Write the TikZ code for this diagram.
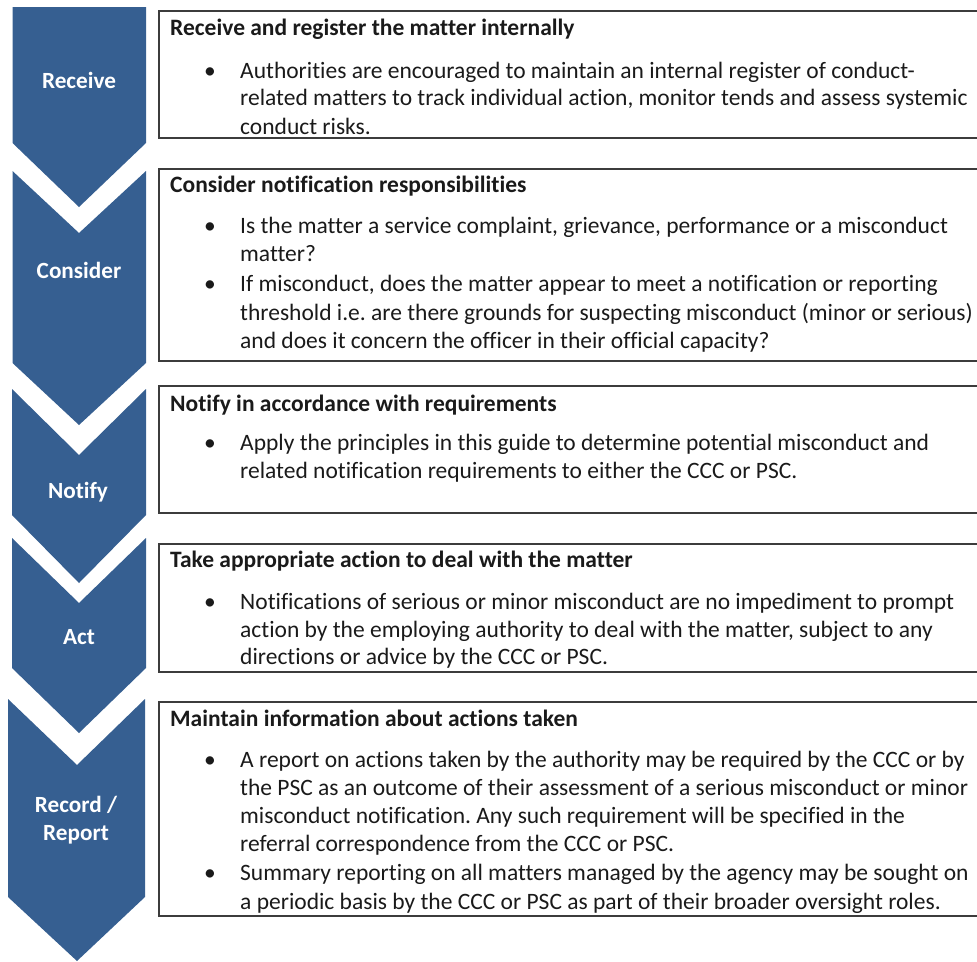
\documentclass[tikz,border=0pt]{standalone}
\usepackage{fontspec}
\setmainfont{Carlito}[Ligatures=NoCommon]
\frenchspacing
\definecolor{stepblue}{HTML}{365F91}
\definecolor{ink}{HTML}{1A1A1A}
\begin{document}
\begin{tikzpicture}[x=1pt,y=-1pt,
  chev/.style={fill=stepblue},
  chevlabel/.style={text=white,font=\fontsize{23.2}{28}\selectfont\bfseries,anchor=base,inner sep=0},
  infobox/.style={draw=ink!85,line width=1.4pt},
  boxtitle/.style={text=ink,font=\fontsize{23.5}{28}\selectfont\bfseries,anchor=base west,inner sep=0},
  bodyline/.style={text=ink,font=\fontsize{23.5}{28}\selectfont,anchor=base west,inner sep=0},
  dot/.style={text=ink,font=\fontsize{23.5}{28}\selectfont,anchor=base,inner sep=0}]
\useasboundingbox (0,0) rectangle (977,961);
\clip (0,0) rectangle (977,961);

% chevrons: top corners, notch depth, side bottoms, tip
\fill[chev] (12.5,7) -- (146,7) -- (146,143) -- (79,207) -- (12.5,143) -- cycle;
\fill[chev] (12.5,171) -- (79,233) -- (146,171) -- (146,363) -- (79,425) -- (12.5,363) -- cycle;
\fill[chev] (12,389) -- (79,455) -- (146,389) -- (146,515) -- (79,583) -- (12,515) -- cycle;
\fill[chev] (12,538) -- (79,603) -- (146,538) -- (146,668) -- (79,733) -- (12,668) -- cycle;
\fill[chev] (8,699) -- (77,765) -- (145,699) -- (145,897) -- (77,961) -- (8,897) -- cycle;

\node[chevlabel] (receive) at (79,88) {Receive};
\node[chevlabel] (consider) at (79,278) {Consider};
\node[chevlabel] (notify) at (78,498) {Notify};
\node[chevlabel] (act) at (79,644) {Act};
\node[chevlabel] (record) at (76,812) {Record /};
\node[chevlabel] (report) at (76,840) {Report};

% framed text boxes (open to the right edge)
\draw[infobox] (990,11) -- (159,11) -- (159,138) -- (990,138);
\draw[infobox] (990,169) -- (159,169) -- (159,361) -- (990,361);
\draw[infobox] (990,386) -- (159,386) -- (159,513) -- (990,513);
\draw[infobox] (990,544) -- (159,544) -- (159,672) -- (990,672);
\draw[infobox] (990,702) -- (159,702) -- (159,916) -- (990,916);

% Receive
\node[boxtitle] (t1) at (170,35) {Receive and register the matter internally};
\node[dot] (d1a) at (210,78) {•};
\node[bodyline] (l1a) at (240,78) {Authorities are encouraged to maintain an internal register of conduct-};
\node[bodyline] (l1b) at (240,105) {related matters to track individual action, monitor tends and assess systemic};
\node[bodyline] (l1c) at (240,134) {conduct risks.};

% Consider
\node[boxtitle] (t2) at (170,192) {Consider notification responsibilities};
\node[dot] (d2a) at (210,233) {•};
\node[bodyline] (l2a) at (240,233) {Is the matter a service complaint, grievance, performance or a misconduct};
\node[bodyline] (l2b) at (240,261) {matter?};
\node[dot] (d2b) at (210,291) {•};
\node[bodyline] (l2c) at (240,291) {If misconduct, does the matter appear to meet a notification or reporting};
\node[bodyline] (l2d) at (240,320) {threshold i.e. are there grounds for suspecting misconduct (minor or serious)};
\node[bodyline] (l2e) at (240,348) {and does it concern the officer in their official capacity?};

% Notify
\node[boxtitle] (t3) at (170,411) {Notify in accordance with requirements};
\node[dot] (d3a) at (210,450) {•};
\node[bodyline] (l3a) at (240,450) {Apply the principles in this guide to determine potential misconduct and};
\node[bodyline] (l3b) at (240,478) {related notification requirements to either the CCC or PSC.};

% Act
\node[boxtitle] (t4) at (170,567) {Take appropriate action to deal with the matter};
\node[dot] (d4a) at (210,609) {•};
\node[bodyline] (l4a) at (240,609) {Notifications of serious or minor misconduct are no impediment to prompt};
\node[bodyline] (l4b) at (240,637) {action by the employing authority to deal with the matter, subject to any};
\node[bodyline] (l4c) at (240,664) {directions or advice by the CCC or PSC.};

% Record / Report
\node[boxtitle] (t5) at (170,726) {Maintain information about actions taken};
\node[dot] (d5a) at (210,767) {•};
\node[bodyline] (l5a) at (240,767) {A report on actions taken by the authority may be required by the CCC or by};
\node[bodyline] (l5b) at (240,795) {the PSC as an outcome of their assessment of a serious misconduct or minor};
\node[bodyline] (l5c) at (240,823) {misconduct notification. Any such requirement will be specified in the};
\node[bodyline] (l5d) at (240,851) {referral correspondence from the CCC or PSC.};
\node[dot] (d5b) at (210,880) {•};
\node[bodyline] (l5e) at (240,880) {Summary reporting on all matters managed by the agency may be sought on};
\node[bodyline] (l5f) at (240,909) {a periodic basis by the CCC or PSC as part of their broader oversight roles.};
\end{tikzpicture}
\end{document}
